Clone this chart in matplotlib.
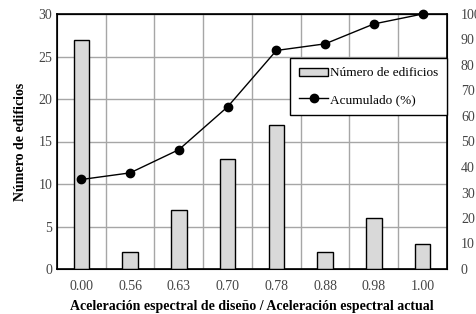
import numpy as np
import matplotlib.pyplot as plt

plt.rcParams['font.family'] = ['Liberation Serif', 'DejaVu Serif']

categorias = ['0.00', '0.56', '0.63', '0.70', '0.78', '0.88', '0.98', '1.00']
edificios = [27, 2, 7, 13, 17, 2, 6, 3]
acumulado = [35.1, 37.7, 46.8, 63.6, 85.7, 88.3, 96.1, 100.0]

fig = plt.figure(figsize=(4.77, 3.14), dpi=100)
ax = fig.add_axes([57/477, 45/314, 390/477, 255/314])
x = np.arange(len(categorias))

b = ax.bar(x, edificios, width=0.32, color='#d9d9d9', edgecolor='black', linewidth=1,
           label='Número de edificios', zorder=3)
ax.set_xlim(-0.5, len(categorias) - 0.5)
ax.set_ylim(0, 30)
ax.set_yticks(range(0, 31, 5))
ax.set_xticks(x)
ax.set_xticklabels(categorias)
ax.set_xticks(np.arange(0.5, len(categorias) - 0.5, 1), minor=True)
ax.grid(False)
ax.grid(True, which='minor', axis='x', color='#a6a6a6', linewidth=1)
ax.grid(True, which='major', axis='y', color='#a6a6a6', linewidth=1)
ax.set_axisbelow(True)
ax.tick_params(which='both', length=0, labelsize=10, colors='#444444')
ax.tick_params(axis='x', pad=8)
ax.set_ylabel('Número de edificios', fontsize=10, fontweight='bold', labelpad=8)
ax.set_xlabel('Aceleración espectral de diseño / Aceleración espectral actual',
              fontsize=10, fontweight='bold', labelpad=5)
for s in ax.spines.values():
    s.set_linewidth(1.2)

ax2 = ax.twinx()
l, = ax2.plot(x, acumulado, color='black', marker='o', markersize=6, linewidth=1,
              label='Acumulado (%)', clip_on=False, zorder=4)
ax2.set_ylim(0, 100)
ax2.set_yticks(range(0, 101, 10))
ax2.tick_params(length=0, labelsize=10, colors='#444444', pad=10)

leg = ax.legend([b, l], ['Número de edificios', 'Acumulado (%)'],
                loc='upper right', bbox_to_anchor=(1.0, 0.827), borderaxespad=0,
                fontsize=9.5, frameon=True, fancybox=False, edgecolor='black',
                framealpha=1, handlelength=2.2, handleheight=0.6, handletextpad=0.1,
                labelspacing=1.1, borderpad=0.7)
leg.get_frame().set_linewidth(1)
leg.remove()
ax2.add_artist(leg)

fig.savefig('out.png', dpi=100)
